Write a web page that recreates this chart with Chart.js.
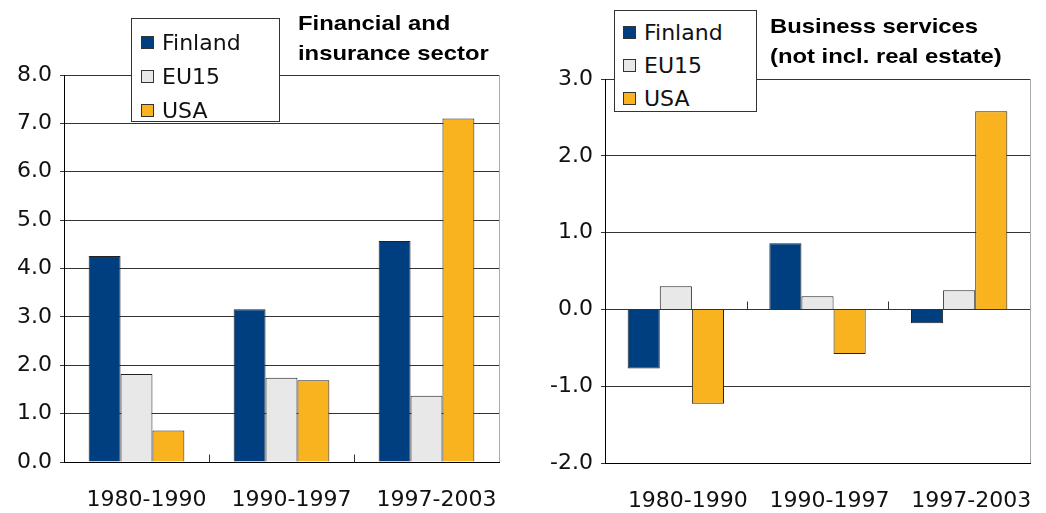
<!DOCTYPE html>
<html>
<head>
<meta charset="utf-8">
<script src="https://cdn.jsdelivr.net/npm/chart.js@4/dist/chart.umd.min.js"></script>
<style>
  body { margin: 0; background: #fff; font-family: "Liberation Sans", Arial, sans-serif; }
  #wrap { position: relative; width: 1046px; height: 513px; overflow: hidden; }
  canvas { position: absolute; top: 0; }
  .title { position: absolute; font-weight: bold; font-size: 21px; line-height: 30px; color: #000; white-space: nowrap;
           transform: scaleX(1.135); transform-origin: left top; }
  .legend { position: absolute; background: #fff; border: 1px solid #333; box-sizing: border-box; }
  .row { display: flex; align-items: center; font-family: "DejaVu Sans", sans-serif; font-size: 22px; color: #111; }
  .sw { width: 13px; height: 13px; border: 1px solid #333; box-sizing: border-box; margin-right: 8px; }
</style>
</head>
<body>
<div id="wrap">
  <canvas id="left" width="510" height="513" style="left:0"></canvas>
  <canvas id="right" width="526" height="513" style="left:520px"></canvas>

  <div class="title" style="left:298px; top:8px">Financial and<br>insurance sector</div>
  <div class="title" style="left:770px; top:11px">Business services<br>(not incl. real estate)</div>

  <div class="legend" id="legLeft" style="left:131px; top:18px; width:149px; height:104px; padding:6px 0 0 9px"></div>
  <div class="legend" id="legRight" style="left:614px; top:10px; width:143px; height:102px; padding:5px 0 0 8px"></div>
</div>
<script>
// data
const periods = ['1980-1990', '1990-1997', '1997-2003'];
const seriesNames = ['Finland', 'EU15', 'USA'];
const colors = ['#003f7f', '#e8e8e8', '#f8b31f'];

const financeFinland = [4.26, 3.16, 4.57];
const financeEU15 = [1.82, 1.74, 1.37];
const financeUSA = [0.65, 1.69, 7.10];

const businessFinland = [-0.77, 0.86, -0.18];
const businessEU15 = [0.30, 0.17, 0.25];
const businessUSA = [-1.23, -0.58, 2.58];

const financeTicks = [0, 8];
const businessTicks = [-2, 3];

// legends
function buildLegend(el, rowH) {
    seriesNames.forEach((name, i) => {
        const row = document.createElement('div');
        row.className = 'row';
        row.style.height = rowH + 'px';
        row.innerHTML = '<span class="sw" style="background:' + colors[i] + '"></span>' + name;
        el.appendChild(row);
    });
}
buildLegend(document.getElementById('legLeft'), 34);
buildLegend(document.getElementById('legRight'), 33);

// right frame line + little upward ticks between categories on the zero line
const framePlugin = {
    id: 'frame',
    afterDraw(chart) {
        const ctx = chart.ctx;
        const a = chart.chartArea;
        const x = chart.scales.x;
        const y = chart.scales.y;
        ctx.save();
        ctx.strokeStyle = '#aaaaaa';
        ctx.lineWidth = 1;
        ctx.beginPath();
        ctx.moveTo(a.right + 0.5, a.top);
        ctx.lineTo(a.right + 0.5, a.bottom);
        ctx.stroke();

        const zero = Math.round(y.getPixelForValue(0)) + 0.5;
        const half = (x.getPixelForValue(1) - x.getPixelForValue(0)) / 2;
        ctx.strokeStyle = '#333';
        ctx.beginPath();
        for (let i = 0; i < periods.length - 1; i++) {
            const px = Math.round(x.getPixelForValue(i) + half) + 0.5;
            ctx.moveTo(px, zero);
            ctx.lineTo(px, zero - 8);
        }
        ctx.stroke();
        ctx.restore();
    }
};

const tickFont = { family: 'DejaVu Sans', size: 22 };

function makeChart(id, data, range, axisW, pad, catPct, labelShift) {
    const ctx = document.getElementById(id).getContext('2d');
    return new Chart(ctx, {
        type: 'bar',
        data: {
            labels: periods,
            datasets: data.map((d, i) => ({
                label: seriesNames[i],
                data: d,
                backgroundColor: colors[i],
                borderColor: '#222',
                borderWidth: 1,
                categoryPercentage: catPct,
                barPercentage: 1.0
            }))
        },
        options: {
            responsive: false,
            animation: false,
            layout: { padding: pad },
            plugins: { legend: { display: false }, tooltip: { enabled: false } },
            scales: {
                x: {
                    grid: { display: true, drawOnChartArea: false, drawTicks: false },
                    border: { color: '#000', width: 1 },
                    ticks: { color: '#111', padding: 25, labelOffset: labelShift, font: tickFont },
                    afterFit: s => {
                        s.height = 513 - pad.top - range.plotH;
                        s.paddingLeft = 0;
                        s.paddingRight = 0;
                    }
                },
                y: {
                    min: range.min,
                    max: range.max,
                    grid: { color: '#333', lineWidth: 1, tickLength: 4 },
                    border: { color: '#000', width: 1 },
                    ticks: {
                        stepSize: 1,
                        color: '#111',
                        padding: 8,
                        font: tickFont,
                        callback: v => v.toFixed(1)
                    },
                    afterFit: s => {
                        s.width = axisW;
                        s.paddingTop = 0;
                        s.paddingBottom = 0;
                    }
                }
            }
        },
        plugins: [framePlugin]
    });
}

makeChart('left', [financeFinland, financeEU15, financeUSA],
    { min: financeTicks[0], max: financeTicks[1], plotH: 387 },
    64, { top: 75, right: 11, left: 0, bottom: 0 }, 0.66, 10);

makeChart('right', [businessFinland, businessEU15, businessUSA],
    { min: businessTicks[0], max: businessTicks[1], plotH: 384 },
    85, { top: 79, right: 16, left: 0, bottom: 0 }, 0.68, 12);
</script>
</body>
</html>
